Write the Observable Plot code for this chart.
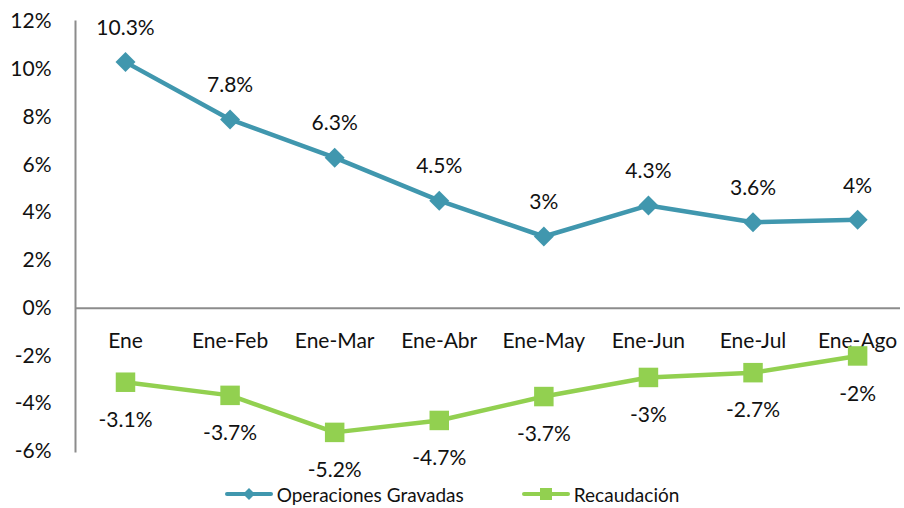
<!DOCTYPE html>
<html>
<head>
<meta charset="utf-8">
<script src="https://cdn.jsdelivr.net/npm/d3@7"></script>
<script src="https://cdn.jsdelivr.net/npm/@observablehq/plot@0.6"></script>
<style>
  body { margin: 0; background: #fff; font-family: Lato, "Open Sans", sans-serif; }
  #chart svg { display: block; }
  .legend { height: 28px; display: flex; justify-content: center; align-items: center; gap: 58px; font-size: 19px; color: #111; }
  .legend .item { display: flex; align-items: center; gap: 4px; }
</style>
</head>
<body>
<div id="chart"></div>
<div class="legend">
  <div class="item">
    <svg width="48" height="20"><line x1="2" y1="10" x2="46" y2="10" stroke="#4097AE" stroke-width="4" stroke-linecap="round"/><path d="M24,4 L30,10 L24,16 L18,10 Z" fill="#4097AE"/></svg>
    <span>Operaciones Gravadas</span>
  </div>
  <div class="item">
    <svg width="48" height="20"><line x1="2" y1="10" x2="46" y2="10" stroke="#92D050" stroke-width="4" stroke-linecap="round"/><rect x="18" y="4" width="12" height="12" fill="#92D050"/></svg>
    <span>Recaudación</span>
  </div>
</div>
<script>
const categories = ["Ene", "Ene-Feb", "Ene-Mar", "Ene-Abr", "Ene-May", "Ene-Jun", "Ene-Jul", "Ene-Ago"];
const operaciones = [10.3, 7.9, 6.3, 4.5, 3.0, 4.3, 3.6, 3.7];
const operacionesLabels = ["10.3%", "7.8%", "6.3%", "4.5%", "3%", "4.3%", "3.6%", "4%"];
const recaudacion = [-3.1, -3.65, -5.2, -4.7, -3.7, -2.9, -2.7, -2.0];
const recaudacionLabels = ["-3.1%", "-3.7%", "-5.2%", "-4.7%", "-3.7%", "-3%", "-2.7%", "-2%"];
const yTicks = [-6, -4, -2, 0, 2, 4, 6, 8, 10, 12];

const teal = "#4097AE";
const green = "#92D050";

const ops = categories.map((c, i) => ({i, cat: c, v: operaciones[i], label: operacionesLabels[i]}));
const rec = categories.map((c, i) => ({i, cat: c, v: recaudacion[i], label: recaudacionLabels[i]}));

const chart = Plot.plot({
  width: 904,
  height: 480,
  marginLeft: 75,
  marginRight: 4,
  marginTop: 21,
  marginBottom: 29,
  style: {fontFamily: "Lato, 'Open Sans', sans-serif", fontSize: "21px", color: "#111", background: "#fff"},
  x: {type: "linear", domain: [-0.478, 7.41], axis: null},
  y: {domain: [-6, 12]},
  marks: [
    Plot.frame({anchor: "left", stroke: "#8c8c8c", strokeWidth: 2, strokeOpacity: 1}),
    Plot.ruleY([0], {stroke: "#8c8c8c", strokeWidth: 2}),
    Plot.axisY({ticks: yTicks, tickSize: 0, tickPadding: 24, tickFormat: d => d + "%", label: null, fontSize: 21, fill: "#111"}),
    Plot.text(ops, {x: "i", y: 0, text: "cat", dy: 33, fontSize: 21, fill: "#111", ariaLabel: "categories"}),
    Plot.line(ops, {x: "i", y: "v", stroke: teal, strokeWidth: 4.5}),
    Plot.dot(ops, {x: "i", y: "v", symbol: "diamond2", r: 9, fill: teal, stroke: null}),
    Plot.text(ops, {x: "i", y: "v", text: "label", dy: -34, fontSize: 21, fill: "#111"}),
    Plot.line(rec, {x: "i", y: "v", stroke: green, strokeWidth: 4.5}),
    Plot.dot(rec, {x: "i", y: "v", symbol: "square", r: 11, fill: green, stroke: null}),
    Plot.text(rec, {x: "i", y: "v", text: "label", dy: 38, fontSize: 21, fill: "#111"})
  ]
});
d3.select(chart).selectAll('g[aria-label="categories"] text').style("letter-spacing", "1.2px");
document.getElementById("chart").appendChild(chart);
</script>
</body>
</html>
